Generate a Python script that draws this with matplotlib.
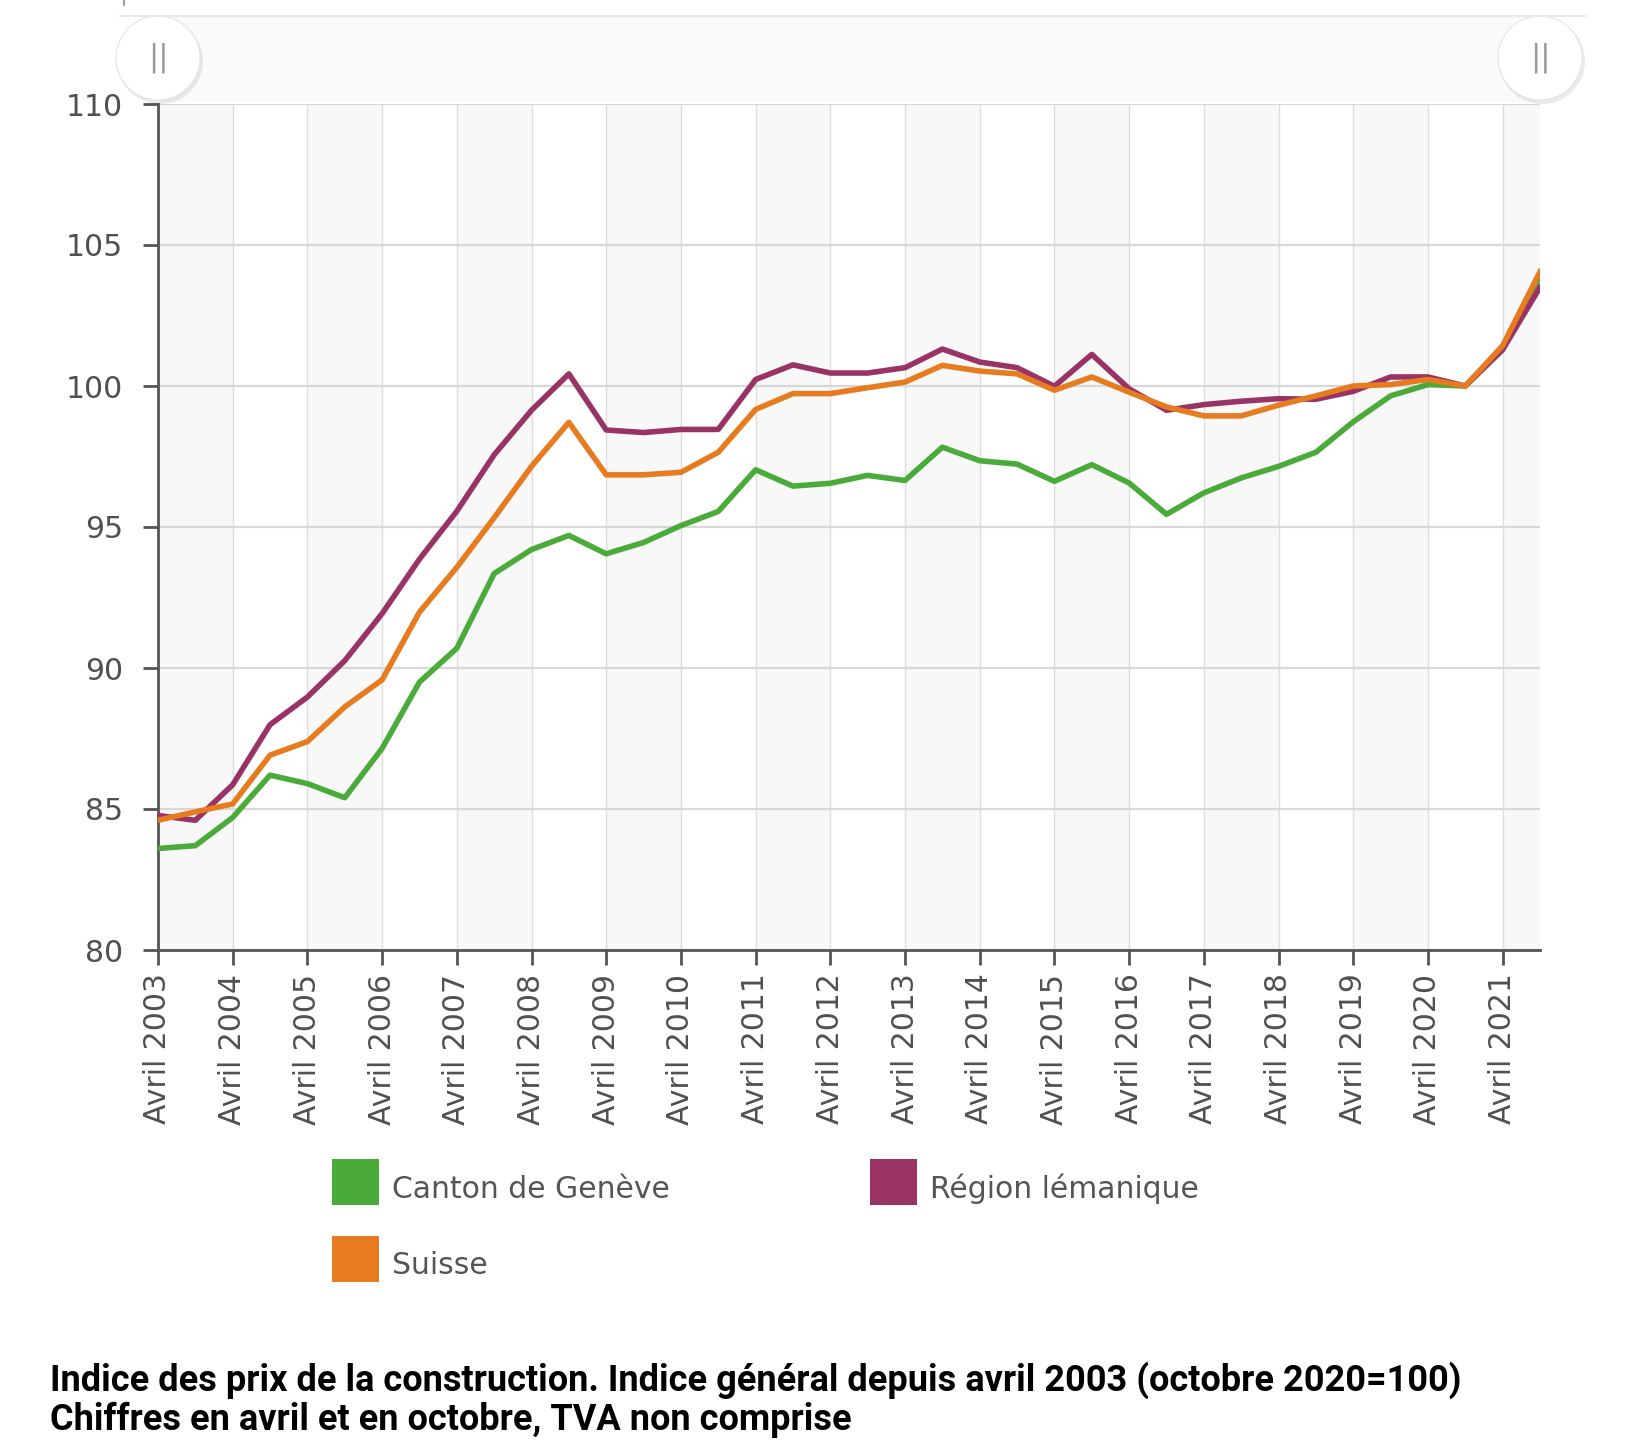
import matplotlib
matplotlib.use("Agg")
import matplotlib.pyplot as plt
from matplotlib.patches import Rectangle, Circle

# semi-annual values, avril 2003 .. octobre 2021
years = list(range(2003, 2022))
geneve = [83.6, 83.7, 84.7, 86.2, 85.9, 85.4, 87.15, 89.5, 90.7, 93.35,
          94.2, 94.7, 94.05, 94.45, 95.05, 95.55, 97.03, 96.45, 96.55, 96.83,
          96.65, 97.83, 97.35, 97.23, 96.62, 97.21, 96.56, 95.45, 96.21, 96.74,
          97.15, 97.65, 98.73, 99.65, 100.05, 100.0, 101.3, 103.9]
lemanique = [84.77, 84.6, 85.86, 87.99, 88.97, 90.26, 91.93, 93.86, 95.56, 97.56,
             99.14, 100.43, 98.44, 98.35, 98.46, 98.46, 100.23, 100.75, 100.46, 100.46,
             100.65, 101.31, 100.85, 100.65, 99.99, 101.12, 99.9, 99.14, 99.34, 99.46,
             99.55, 99.53, 99.81, 100.32, 100.32, 100.0, 101.29, 103.5]
suisse = [84.6, 84.9, 85.18, 86.91, 87.39, 88.62, 89.58, 91.98, 93.57, 95.33,
          97.15, 98.71, 96.85, 96.85, 96.94, 97.65, 99.17, 99.73, 99.73, 99.94,
          100.14, 100.73, 100.53, 100.43, 99.85, 100.32, 99.78, 99.26, 98.94, 98.94,
          99.32, 99.65, 100.0, 100.05, 100.23, 100.0, 101.43, 104.05]
tick_labels = ["Avril " + str(y) for y in years]
yticks = [80, 85, 90, 95, 100, 105, 110]

c_gen = "#4aab3a"
c_lem = "#993366"
c_sui = "#e67b1f"

W, H = 1652, 1441
fig = plt.figure(figsize=(W / 100, H / 100), dpi=100)
fig.patch.set_facecolor("white")

ax = fig.add_axes([158 / W, 1 - 950 / H, (1540 - 158) / W, (950 - 104) / H])
x = list(range(len(geneve)))

# alternating year bands
for i in range(0, len(years)):
    if i % 2 == 0:
        ax.axvspan(2 * i, 2 * i + 2, color="#f8f8f8", lw=0, zorder=0)

ax.plot(x, geneve, color=c_gen, lw=4.0, zorder=3)
ax.plot(x, lemanique, color=c_lem, lw=4.0, zorder=3)
ax.plot(x, suisse, color=c_sui, lw=4.0, zorder=3)

ax.set_xlim(0, len(geneve) - 1)
ax.set_ylim(80, 110)
ax.set_xticks(range(0, 2 * len(years), 2))
ax.set_xticklabels(tick_labels, rotation=90)
ax.set_yticks(yticks)
ax.set_facecolor("white")

ax.grid(axis="y", color="#d8d8d8", lw=1.6, zorder=1)
ax.grid(axis="x", color="#dedede", lw=1.0, zorder=1)
ax.set_axisbelow(True)

for s in ["top", "right"]:
    ax.spines[s].set_visible(False)
for s in ["left", "bottom"]:
    ax.spines[s].set_color("#555555")
    ax.spines[s].set_linewidth(2)
ax.tick_params(axis="both", length=11, width=2, color="#555555",
               labelsize=21.5, labelcolor="#505050")
ax.tick_params(axis="y", pad=14)
ax.tick_params(axis="x", pad=6)

# overlay in pixel coords for the scrollbar, legend and caption
ov = fig.add_axes([0, 0, 1, 1], zorder=5)
ov.set_xlim(0, W)
ov.set_ylim(H, 0)
ov.axis("off")
ov.patch.set_alpha(0)

ov.add_patch(Rectangle((158, 16), 1540 - 158, 86, facecolor="#fafafa", edgecolor="none"))
ov.plot([120, 1585], [16, 16], color="#e8e8e8", lw=1.5)
ov.plot([124, 124], [0, 5], color="#888888", lw=1.2)
for cx in [158, 1540]:
    ov.add_patch(Circle((cx + 2, 61), 43, facecolor="#000000", alpha=0.08, edgecolor="none"))
    ov.add_patch(Circle((cx, 58), 42, facecolor="white", edgecolor="#e4e4e4", lw=0.8))
    ov.text(cx, 58, "||", ha="center", va="center", fontsize=22, color="#999999")

legend_items = [(c_gen, "Canton de Genève", 332, 1159),
                (c_lem, "Région lémanique", 870, 1159),
                (c_sui, "Suisse", 332, 1236)]
for col, lab, lx, ly in legend_items:
    ov.add_patch(Rectangle((lx, ly), 47, 46, facecolor=col, edgecolor="none"))
    ov.text(lx + 60, ly + 30, lab, ha="left", va="center", fontsize=21.5, color="#555555")

ov.text(50, 1391, "Indice des prix de la construction. Indice général depuis avril 2003 (octobre 2020=100)",
        ha="left", va="baseline", fontsize=26, fontweight="bold", family="Roboto", color="black")
ov.text(50, 1430, "Chiffres en avril et en octobre, TVA non comprise",
        ha="left", va="baseline", fontsize=26, fontweight="bold", family="Roboto", color="black")

fig.savefig("out.png", dpi=100)
